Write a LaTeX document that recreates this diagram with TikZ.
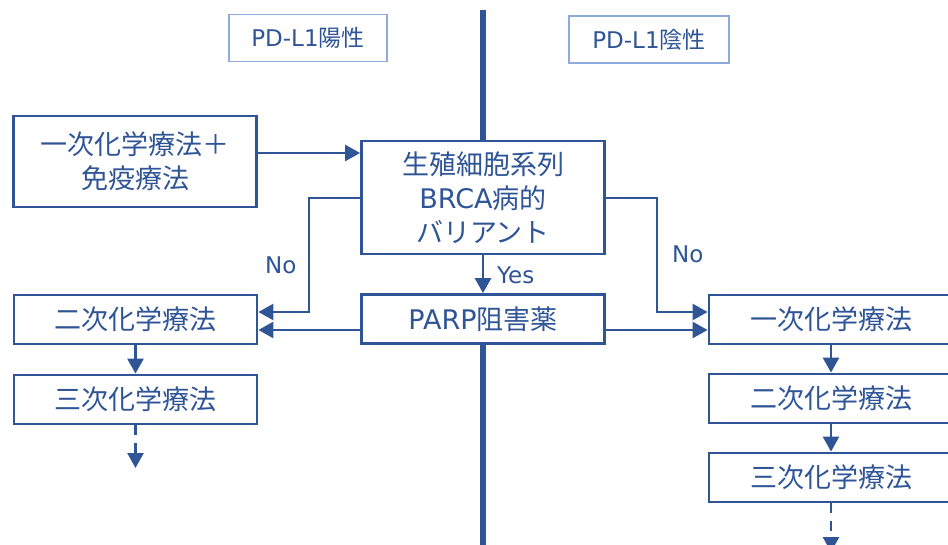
\documentclass[tikz,border=0pt]{standalone}
\usepackage{fontspec}
\setmainfont{DejaVu Sans}
\newfontfamily\cjk{Noto Sans CJK JP}
\usetikzlibrary{arrows.meta}
\definecolor{dblue}{HTML}{2F5597}
\definecolor{lblue}{HTML}{8FAADC}
\begin{document}
\begin{tikzpicture}[x=1pt,y=-1pt,
  box/.style={draw=dblue, line width=2.8pt, fill=white, text=dblue, font=\fontsize{27}{34}\selectfont, align=center, inner sep=0pt, minimum width=243pt, minimum height=49pt},
  hbox/.style={draw=lblue, line width=1.8pt, fill=white, text=dblue, font=\fontsize{23}{27}\selectfont, inner sep=0pt, minimum height=47pt, minimum width=158pt},
  arr/.style={draw=dblue, line width=2.6pt, -{Triangle[length=15pt,width=16pt]}},
  darr/.style={arr, dash pattern=on 10pt off 8pt},
  vline/.style={draw=dblue, line width=5.5pt},
  lbl/.style={text=dblue, font=\fontsize{23}{27}\selectfont, inner sep=0pt, anchor=base west}]
\useasboundingbox (0,0) rectangle (948,545);
\clip (0,0) rectangle (948,545);
\fill[white] (0,0) rectangle (948,545);

% headers
\node[hbox] (h1) at (308,38) {PD-L1{\cjk 陽性}};
\node[hbox, minimum width=160pt] (h2) at (649,39.5) {PD-L1{\cjk 陰性}};

% boxes
\node[box, minimum height=91pt] (first) at (135,161.5) {{\cjk 一次化学療法＋}\\{\cjk 免疫療法}};
\node[box, minimum height=113pt] (brca) at (483,197.5) {{\cjk 生殖細胞系列}\\BRCA{\cjk 病的}\\{\cjk バリアント}};
\node[box] (parp) at (483,319) {PARP{\cjk 阻害薬}};
\node[box] (l2) at (135.5,319.5) {\cjk 二次化学療法};
\node[box] (l3) at (135.5,399.5) {\cjk 三次化学療法};
\node[box, minimum width=244pt] (r1) at (831,319.5) {\cjk 一次化学療法};
\node[box, minimum width=244pt] (r2) at (831,398.5) {\cjk 二次化学療法};
\node[box, minimum width=244pt] (r3) at (831,477.5) {\cjk 三次化学療法};

% vertical divider
\coordinate (vtop) at (483,10);
\coordinate (vbot) at (483,548);
\draw[vline] (vtop) -- (brca.north);
\draw[vline] (parp.south) -- (vbot);

% connectors
\coordinate (lend) at (135.5,468);
\coordinate (rend) at (831,552);
\coordinate (lbend) at (309,312);
\coordinate (rbend) at (657,312);
\draw[arr] (first.east |- 0,153) -- (brca.west |- 0,153);
\draw[arr] (brca.west |- 0,198) -| (lbend) -- (l2.east |- lbend);
\draw[arr] (brca.east |- 0,198) -| (rbend) -- (r1.west |- rbend);
\draw[arr] (brca.south) -- (parp.north);
\draw[arr] (parp.west |- 0,330) -- (l2.east |- 0,330);
\draw[arr] (parp.east |- 0,330) -- (r1.west |- 0,330);
\draw[arr] (l2.south) -- (l3.north);
\draw[darr] (l3.south) -- (lend);
\draw[arr] (r1.south) -- (r2.north);
\draw[arr] (r2.south) -- (r3.north);
\draw[darr] (r3.south) -- (rend);

% labels
\node[lbl] (no1) at (265,274) {No};
\node[lbl] (no2) at (672,263) {No};
\node[lbl] (yes) at (497,284) {Yes};
\end{tikzpicture}
\end{document}
